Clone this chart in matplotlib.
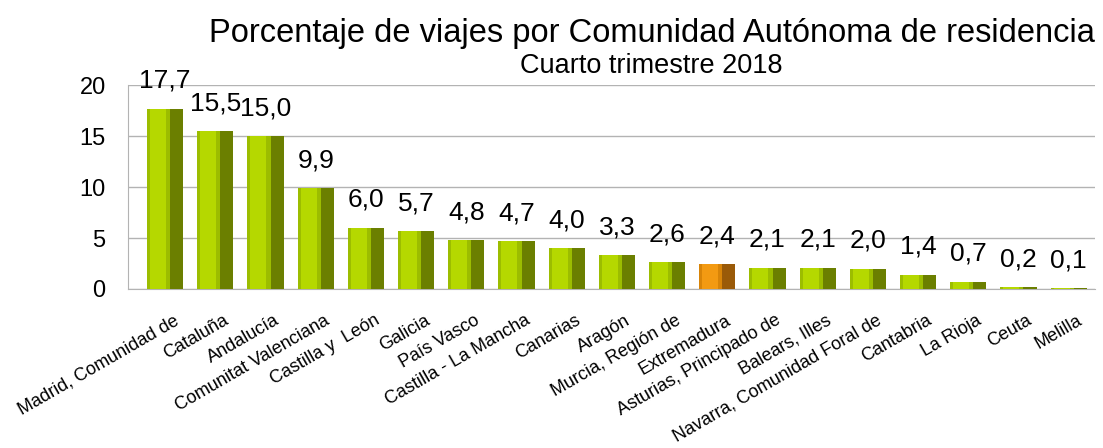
import numpy as np
import matplotlib
matplotlib.use("Agg")
import matplotlib.pyplot as plt
import matplotlib.transforms as mtransforms

regions = ["Madrid, Comunidad de", "Cataluña", "Andalucía", "Comunitat Valenciana",
           "Castilla y  León", "Galicia", "País Vasco", "Castilla - La Mancha",
           "Canarias", "Aragón", "Murcia, Región de", "Extremadura",
           "Asturias, Principado de", "Balears, Illes", "Navarra, Comunidad Foral de",
           "Cantabria", "La Rioja", "Ceuta", "Melilla"]
values = [17.7, 15.5, 15.0, 9.9, 6.0, 5.7, 4.8, 4.7, 4.0, 3.3, 2.6, 2.4,
          2.1, 2.1, 2.0, 1.4, 0.7, 0.2, 0.1]
highlight = "Extremadura"

plt.rcParams['font.family'] = ['Liberation Sans', 'DejaVu Sans']

fig = plt.figure(figsize=(11.03, 4.48), dpi=100)
ax = fig.add_axes([0.116, 0.355, 0.877, 0.455])

x = np.arange(len(regions))
light = ["#F39A12" if r == highlight else "#B5D800" for r in regions]
edge = ["#D88408" if r == highlight else "#9CBD00" for r in regions]
dark = ["#9A5A08" if r == highlight else "#6B7F00" for r in regions]

w = 0.72
dw = 0.26
ax.bar(x, values, width=w, color=light, zorder=3)
# shading for the cylinder look
ax.bar(x - w / 2 + 0.03, values, width=0.06, color=edge, zorder=4, linewidth=0)
ax.bar(x + w / 2 - dw - 0.04, values, width=0.08, color=edge, zorder=4, linewidth=0)
ax.bar(x + w / 2 - dw / 2, values, width=dw, color=dark, zorder=4, linewidth=0)

for xi, v in zip(x, values):
    ax.annotate(f"{v:.1f}".replace(".", ","), (xi, v), xytext=(0, 15),
                textcoords="offset points", ha="center", va="baseline", fontsize=19)

ax.set_xlim(-0.74, 18.53)
ax.set_ylim(0, 20)
ax.set_yticks([0, 5, 10, 15, 20])
ax.tick_params(axis='y', labelsize=17, length=0, pad=16)
ax.tick_params(axis='x', length=0)
ax.set_xticks(x)
ax.set_xticklabels(regions, rotation=30, ha="right", rotation_mode="anchor", fontsize=13)
shift = mtransforms.ScaledTranslation(8 / 100, -18 / 100, fig.dpi_scale_trans)
for lbl in ax.get_xticklabels():
    lbl.set_transform(lbl.get_transform() + shift)
ax.grid(axis='y', color="#b3b3b3", linewidth=1, zorder=0)
for side in ["top", "right"]:
    ax.spines[side].set_visible(False)
ax.spines["left"].set_color("#b3b3b3")
ax.spines["bottom"].set_color("#b3b3b3")

fig.text(0.591, 0.906, "Porcentaje de viajes por Comunidad Autónoma de residencia",
         ha="center", va="baseline", fontsize=23.5)
fig.text(0.590, 0.836, "Cuarto trimestre 2018", ha="center", va="baseline", fontsize=19.5)

fig.savefig("out.png", dpi=100)
